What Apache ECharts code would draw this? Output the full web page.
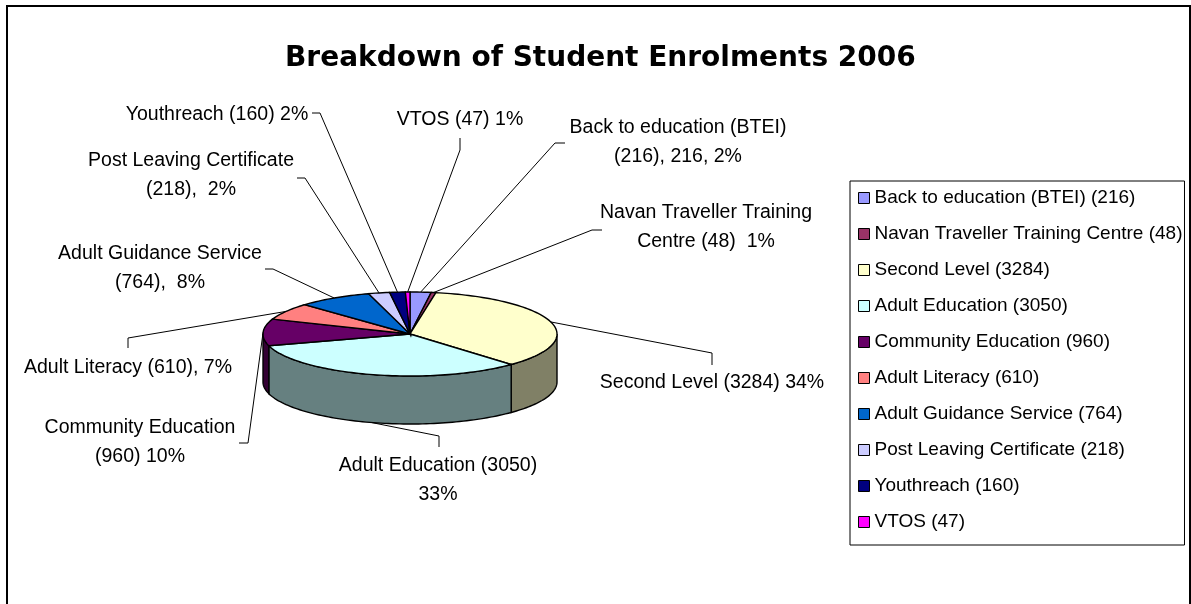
<!DOCTYPE html>
<html>
<head>
<meta charset="utf-8">
<script src="https://cdn.jsdelivr.net/npm/echarts@6/dist/echarts.min.js"></script>
<style>
  html, body { margin: 0; padding: 0; background: #fff; }
  #chart { width: 1191px; height: 604px; }
</style>
</head>
<body>
<div id="chart"></div>
<script>
// enrolment groups, clockwise from 12 o'clock as in the original
var categories = ['Back to education (BTEI)', 'Navan Traveller Training Centre', 'Second Level',
  'Adult Education', 'Community Education', 'Adult Literacy', 'Adult Guidance Service',
  'Post Leaving Certificate', 'Youthreach', 'VTOS']
var enrolments = [216, 48, 3284, 3050, 960, 610, 764, 218, 160, 47]
// slice labels exactly as typed on the original chart
var sliceLabels = [
  'Back to education (BTEI)\n(216), 216, 2%',
  'Navan Traveller Training\nCentre (48)  1%',
  'Second Level (3284) 34%',
  'Adult Education (3050)\n33%',
  'Community Education\n(960) 10%',
  'Adult Literacy (610), 7%',
  'Adult Guidance Service\n(764),  8%',
  'Post Leaving Certificate\n(218),  2%',
  'Youthreach (160) 2%',
  'VTOS (47) 1%'
]
var colors = ['#9999FF', '#993366', '#FFFFCC', '#CCFFFF', '#660066',
  '#FF8080', '#0066CC', '#CCCCFF', '#000080', '#FF00FF']

// hand placed labels (text centre) and leader elbows, like the dragged Excel labels
var labelPlaces = [
  { x: 678, y: 142, elbow: [[555, 143], [565, 143]] },
  { x: 706, y: 227, elbow: [[592, 230], [602, 230]] },
  { x: 712, y: 383, elbow: [[712, 353], [712, 365]] },
  { x: 438, y: 480, elbow: [[439, 436], [439, 447]] },
  { x: 140, y: 442, elbow: [[248, 443], [239, 443]] },
  { x: 128, y: 368, elbow: [[128, 338], [128, 348]] },
  { x: 160, y: 268, elbow: [[273, 269], [265, 269]] },
  { x: 191, y: 175, elbow: [[305, 178], [297, 178]] },
  { x: 217, y: 115, elbow: [[320, 113], [312, 113]] },
  { x: 460, y: 120, elbow: [[460, 150], [460, 138]] }
]

// tilted pie geometry
var cx = 410, cy = 334, rx = 147, ry = 42, depth = 48

var total = enrolments.reduce(function(a, b) { return a + b }, 0)

function pt(deg, dy) {
  var r = deg * Math.PI / 180
  return [cx + rx * Math.sin(r), cy - ry * Math.cos(r) + (dy || 0)]
}

function arc(a1, a2, dy) {
  var pts = []
  var n = Math.max(2, Math.ceil((a2 - a1) / 1.5))
  for (var i = 0; i <= n; i++) {
    pts.push(pt(a1 + (a2 - a1) * i / n, dy))
  }
  return pts
}

function shade(hex) {
  var c = parseInt(hex.slice(1), 16)
  var r = (c >> 16) & 255, g = (c >> 8) & 255, b = c & 255
  return 'rgb(' + Math.round(r / 2) + ',' + Math.round(g / 2) + ',' + Math.round(b / 2) + ')'
}

function renderSlice(params, api) {
  var i = params.seriesIndex
  var a1 = api.value(0) / total * 360
  var a2 = api.value(1) / total * 360
  var color = colors[i]
  var children = []

  // outer wall, only where the slice faces us
  var s1 = Math.max(a1, 90), s2 = Math.min(a2, 270)
  if (s2 > s1) {
    var wall = arc(s1, s2, 0).concat(arc(s1, s2, depth).reverse())
    children.push({
      type: 'polygon',
      shape: { points: wall },
      style: { fill: shade(color), stroke: '#000', lineWidth: 1.4 }
    })
  }

  // top face
  children.push({
    type: 'polygon',
    shape: { points: [[cx, cy]].concat(arc(a1, a2, 0)) },
    style: { fill: color, stroke: '#000', lineWidth: 1.4 }
  })

  // leader line from the slice edge to the label
  var mid = (a1 + a2) / 2
  var start = pt(mid, mid > 90 && mid < 270 ? depth : 0)
  var place = labelPlaces[i]
  children.push({
    type: 'polyline',
    shape: { points: [start].concat(place.elbow) },
    style: { stroke: '#000', lineWidth: 1, fill: null }
  })
  children.push({
    type: 'text',
    x: place.x,
    y: place.y,
    style: {
      text: sliceLabels[i],
      align: 'center',
      verticalAlign: 'middle',
      fontFamily: 'Liberation Sans',
      fontSize: 19.5,
      lineHeight: 29.5,
      fill: '#000'
    }
  })
  return { type: 'group', children: children }
}

var legendNames = categories.map(function(c, i) { return c + ' (' + enrolments[i] + ')' })

var series = []
var run = 0
enrolments.forEach(function(v, i) {
  series.push({
    type: 'custom',
    name: legendNames[i],
    coordinateSystem: 'none',
    renderItem: renderSlice,
    itemStyle: { color: colors[i], borderColor: '#000', borderWidth: 1 },
    data: [[run, run + v]]
  })
  run += v
})

var chart = echarts.init(document.getElementById('chart'))
chart.setOption({
  animation: false,
  backgroundColor: '#fff',
  title: {
    text: 'Breakdown of Student Enrolments 2006',
    left: 285,
    top: 45,
    padding: 0,
    textStyle: {
      fontFamily: 'DejaVu Sans',
      fontWeight: 'bold',
      fontSize: 28,
      color: '#000'
    }
  },
  legend: {
    orient: 'vertical',
    left: 850,
    top: 181,
    padding: [7, 2, 13, 8],
    itemWidth: 11,
    itemHeight: 11,
    itemGap: 16,
    icon: 'rect',
    selectedMode: false,
    borderColor: '#000',
    borderWidth: 1,
    backgroundColor: '#fff',
    itemStyle: { borderColor: '#000', borderWidth: 1 },
    textStyle: {
      fontFamily: 'Liberation Sans',
      fontSize: 19,
      lineHeight: 20,
      color: '#000'
    },
    data: legendNames
  },
  graphic: [{
    type: 'rect',
    shape: { x: 7, y: 6, width: 1183, height: 700 },
    style: { fill: null, stroke: '#000', lineWidth: 2 },
    silent: true
  }],
  series: series
})
</script>
</body>
</html>
